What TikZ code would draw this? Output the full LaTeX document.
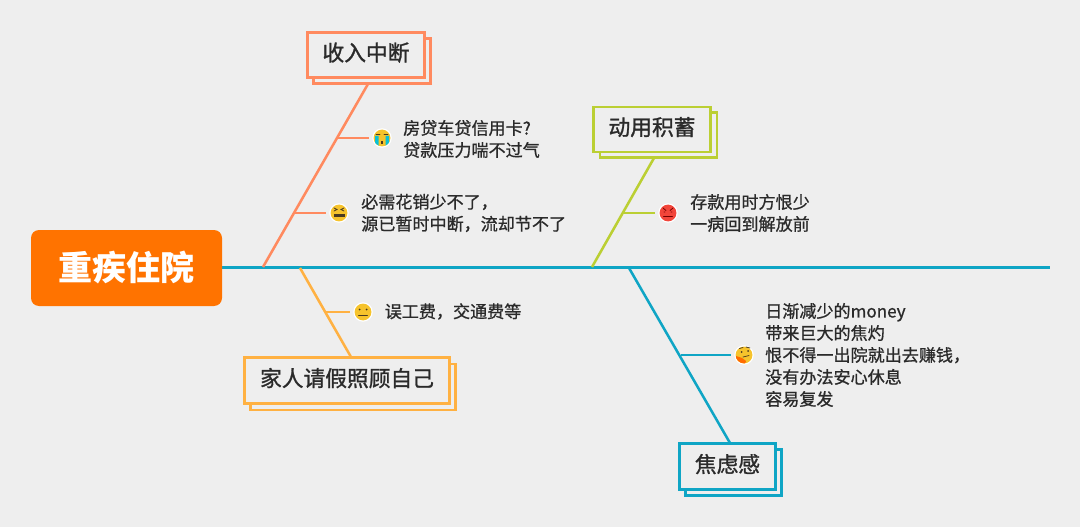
\documentclass[tikz,border=0pt]{standalone}
\usepackage{fontspec}
\setmainfont{Noto Sans CJK SC}
\newfontfamily\cjkm[FakeBold=0.9]{Noto Sans CJK SC}
\newfontfamily\cjkt[FakeBold=1.2]{Noto Sans CJK SC}
\definecolor{bgc}{HTML}{EEEEEE}
\definecolor{coral}{HTML}{FF8A5F}
\definecolor{lime}{HTML}{BBCF33}
\definecolor{amber}{HTML}{FFB142}
\definecolor{teal}{HTML}{0FA5C5}
\definecolor{rootc}{HTML}{FF7300}
\definecolor{ink}{HTML}{2A2A2A}
\definecolor{faceY}{HTML}{F6C32C}
\definecolor{faceR}{HTML}{F2453A}
\definecolor{faceD}{HTML}{4A3A20}
\newcommand{\boxtxt}[1]{\raisebox{0pt}[\height][\dimexpr\depth+3.6pt\relax]{#1}}
\tikzset{
  x=0.75pt,y=-0.75pt,
  link/.style={line width=1.9pt},
  base/.style={line width=1.9pt,teal},
  boxmain/.style={draw,line width=1.8pt,fill=bgc,inner sep=0pt,outer sep=0pt,text=ink,font=\cjkt\fontsize{16.3pt}{20pt}\selectfont},
  boxback/.style={draw,line width=1.8pt,fill=bgc,inner sep=0pt,outer sep=0pt},
  note/.style={anchor=west,align=left,inner sep=0pt,text=ink,font=\cjkm\fontsize{12.8pt}{16.5pt}\selectfont},
  facering/.style={circle,fill=white,inner sep=0pt,outer sep=0pt,minimum size=14.6pt},
  toface/.style={shorten >=2.8pt},
  facepen/.style={draw=faceD,line width=0.55pt,line cap=round},
}
\newcommand{\facedisc}[3]{% name, position, colour
  \node[facering] (#1) at (#2) {};
  \fill[#3] (#1) circle[radius=8.4];
}
\begin{document}
\begin{tikzpicture}
\useasboundingbox[fill=bgc] (0,0) rectangle (1080,527);

% coordinates
\coordinate (rootend) at (1050,267.5);
\coordinate (a0) at (263,267); \coordinate (a1) at (368,84);
\coordinate (a2) at (337,138); \coordinate (a3) at (294,213);
\coordinate (b0) at (592,267); \coordinate (b1) at (654,158);
\coordinate (b2) at (624,213);
\coordinate (c0) at (300,268); \coordinate (c1) at (351,357);
\coordinate (c2) at (325,312);
\coordinate (d0) at (629,268); \coordinate (d1) at (730,443);
\coordinate (d2) at (681,355);

% faces
\facedisc{e1}{382,138}{faceY}
\facedisc{e2}{339,213}{faceY}
\facedisc{e3}{668,213}{faceR}
\facedisc{e4}{363,312}{faceY}
\facedisc{e5}{744,355}{faceY}

% crying
\begin{scope}
\clip (e1) circle[radius=8.4];
\fill[teal!70!cyan] (375,136) rectangle (378.5,147) (385.5,136) rectangle (389,147);
\end{scope}
\draw[facepen] (376,134.5) -- (380,134.5) (384,134.5) -- (388,134.5);
\fill[faceD] (381,141) rectangle (383,144);
% squint with open mouth
\draw[facepen] (334,208) -- (337,209.5) -- (334,211) (344,208) -- (341,209.5) -- (344,211);
\fill[faceD] (333.5,214.5) rectangle (344.5,217);
% angry
\draw[facepen,draw=red!45!black] (663,208) -- (666,210.5) (673,208) -- (670,210.5) (664,212) -- (665,212) (671,212) -- (672,212) (663.5,216.5) -- (672.5,216.5);
% neutral
\fill[faceD] (359.5,309.5) circle[radius=1] (366.5,309.5) circle[radius=1];
\draw[facepen] (358.5,315.5) -- (367.5,315.5);
% thinking
\fill[faceD] (741.5,352) circle[radius=1] (748,351) circle[radius=1];
\draw[facepen] (739.5,348.5) -- (743,347.5) (746,347) -- (750,348) (743,357) -- (749,355.5);
\begin{scope}
\clip (e5) circle[radius=8.4];
\fill[orange!85!red] (736,356) -- (742,358) -- (746,361) -- (745,364) -- (740,364) -- (736,361) -- cycle;
\end{scope}

% spine
\draw[base] (222,267.5) -- (rootend);

% branches
\draw[link,coral] (a0) -- (a1);
\draw[link,coral,toface] (a2) -- (e1);
\draw[link,coral,toface] (a3) -- (e2);
\draw[link,lime] (b0) -- (b1);
\draw[link,lime,toface] (b2) -- (e3);
\draw[link,amber] (c0) -- (c1);
\draw[link,amber,toface] (c2) -- (e4);
\draw[link,teal] (d0) -- (d1);
\draw[link,teal,toface] (d2) -- (e5);

% root
\node[fill=rootc,rounded corners=6pt,inner sep=0pt,minimum width=143.25pt,minimum height=57pt,text=white,font=\bfseries\fontsize{25.5pt}{30pt}\selectfont] (root) at (126.5,268) {重疾住院};

% topic boxes
\node[boxback,draw=coral,minimum width=87.75pt,minimum height=33.75pt] (t1s) at (372,61) {};
\node[boxmain,draw=coral,minimum width=87.75pt,minimum height=33.75pt] (t1) at (366,55) {\boxtxt{收入中断}};
\node[boxback,draw=lime,minimum width=87.75pt,minimum height=33.75pt] (t2s) at (658.5,135) {};
\node[boxmain,draw=lime,minimum width=87.75pt,minimum height=33.75pt] (t2) at (652,129.5) {\boxtxt{动用积蓄}};
\node[boxback,draw=amber,minimum width=153.75pt,minimum height=34.5pt] (t3s) at (353,387) {};
\node[boxmain,draw=amber,minimum width=153.75pt,minimum height=34.5pt] (t3) at (347,380.5) {\boxtxt{家人请假照顾自己}};
\node[boxback,draw=teal,minimum width=72pt,minimum height=34.5pt] (t4s) at (733.5,472.5) {};
\node[boxmain,draw=teal,minimum width=72pt,minimum height=34.5pt] (t4) at (727.5,466.5) {\boxtxt{焦虑感}};

% notes
\node[note] (n1) at (403,139) {房贷车贷信用卡?\\贷款压力喘不过气};
\node[note] (n2) at (361,213) {必需花销少不了，\\源已暂时中断，流却节不了};
\node[note] (n3) at (690,213) {存款用时方恨少\\一病回到解放前};
\node[note] (n4) at (384.5,311.5) {误工费，交通费等};
\node[note] (n5) at (765,355) {日渐减少的money\\带来巨大的焦灼\\恨不得一出院就出去赚钱，\\没有办法安心休息\\容易复发};
\end{tikzpicture}
\end{document}
